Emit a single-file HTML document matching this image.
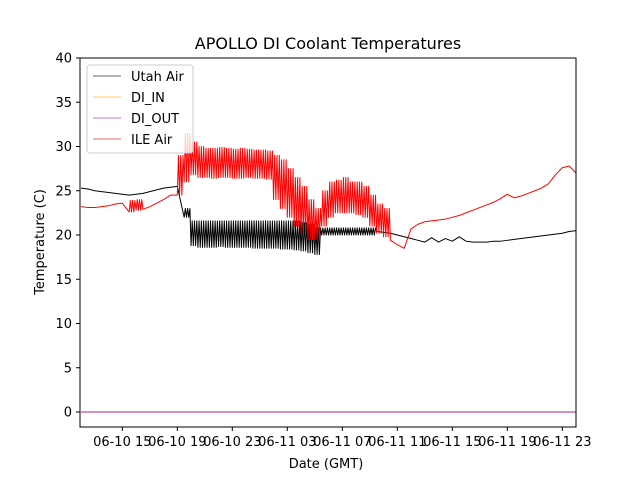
<!DOCTYPE html>
<html><head><meta charset="utf-8"><style>
body{margin:0;background:#fff;}
svg{display:block;font-family:"DejaVu Sans","Liberation Sans",sans-serif;}
</style></head><body>
<svg id="chart" width="640" height="480" viewBox="0 0 640 480">
<rect x="0" y="0" width="640" height="480" fill="#fff"/>
<text x="328" y="49" font-size="16" text-anchor="middle">APOLLO DI Coolant Temperatures</text>
<defs><clipPath id="plotclip"><rect x="80" y="58" width="496" height="369"/></clipPath></defs>
<g id="series" clip-path="url(#plotclip)"></g>
<g id="axes"></g>
<rect x="80" y="58" width="496" height="369" fill="none" stroke="#000" stroke-width="1"/>
<text x="326" y="468" font-size="13" text-anchor="middle">Date (GMT)</text>
<text transform="translate(44,242) rotate(-90)" font-size="13" text-anchor="middle">Temperature (C)</text>
<g>
<rect x="87" y="65" width="106" height="88" rx="3" fill="#fff" fill-opacity="0.8" stroke="#ccc"/>
<line x1="93" y1="76" x2="121" y2="76" stroke="#000" stroke-width="0.7" stroke-opacity="0.8"/>
<text x="131" y="81" font-size="13">Utah Air</text>
<line x1="93" y1="97" x2="121" y2="97" stroke="orange" stroke-width="0.7" stroke-opacity="0.8"/>
<text x="131" y="102" font-size="13">DI_IN</text>
<line x1="93" y1="118" x2="121" y2="118" stroke="#a0209a" stroke-width="0.7" stroke-opacity="0.8"/>
<text x="131" y="123" font-size="13">DI_OUT</text>
<line x1="93" y1="139" x2="121" y2="139" stroke="red" stroke-width="0.7" stroke-opacity="0.8"/>
<text x="131" y="144" font-size="13">ILE Air</text>
</g>
</svg>
<script>
// hours since 06-10 00:00 GMT, sampled every 0.5h
const hourStart = 12, hourStep = 0.5;
const utahLo = [25.3,25.2,25.0,24.9,24.8,24.7,24.6,24.5,24.6,24.7,24.9,25.1,25.3,25.4,25.5,22.0,
18.8,18.6,18.6,18.6,18.7,18.6,18.6,18.6,18.6,18.5,18.5,18.5,18.5,18.4,18.4,18.3,18.2,18.0,17.8,
20.0,20.0,20.0,20.0,20.0,20.0,20.0,20.0,
20.4,20.3,20.2,20.0,19.8,19.6,19.4,19.2,19.7,19.2,19.6,19.3,19.8,19.3,19.2,19.2,19.2,19.3,19.3,19.4,19.5,19.6,19.7,19.8,19.9,20.0,20.1,20.2,20.4,20.5];
const utahHi = [25.3,25.2,25.0,24.9,24.8,24.7,24.6,24.5,24.6,24.7,24.9,25.1,25.3,25.4,25.5,23.0,
21.6,21.6,21.6,21.6,21.6,21.6,21.6,21.6,21.6,21.6,21.6,21.6,21.6,21.6,21.6,21.6,21.4,21.2,20.8,
20.8,20.8,20.8,20.8,20.8,20.8,20.8,20.8,
20.4,20.3,20.2,20.0,19.8,19.6,19.4,19.2,19.7,19.2,19.6,19.3,19.8,19.3,19.2,19.2,19.2,19.3,19.3,19.4,19.5,19.6,19.7,19.8,19.9,20.0,20.1,20.2,20.4,20.5];
const ileLo = [23.2,23.1,23.1,23.2,23.3,23.5,23.6,22.6,22.8,22.9,23.2,23.6,24.0,24.5,24.5,26.0,
26.8,26.5,26.5,26.4,26.5,26.5,26.4,26.4,26.5,26.4,26.4,26.3,24.0,23.0,22.0,21.0,20.2,19.5,19.5,
21.0,22.0,22.5,22.5,22.5,22.3,22.0,21.0,
20.2,19.8,19.4,18.9,18.5,20.7,21.2,21.5,21.6,21.7,21.8,22.0,22.2,22.5,22.8,23.1,23.4,23.7,24.1,24.6,24.2,24.4,24.7,25.0,25.3,25.8,26.8,27.6,27.8,27.0];
const ileHi = [23.2,23.1,23.1,23.2,23.3,23.5,23.6,23.9,24.0,22.9,23.2,23.6,24.0,24.5,29.0,31.5,
30.5,30.0,29.8,29.8,29.9,29.8,29.7,29.8,29.7,29.6,29.6,29.5,29.0,28.5,27.5,26.5,25.5,24.0,23.0,
25.0,26.0,26.2,26.5,26.0,26.0,25.5,24.5,
23.5,23.0,19.4,18.9,18.5,20.7,21.2,21.5,21.6,21.7,21.8,22.0,22.2,22.5,22.8,23.1,23.4,23.7,24.1,24.6,24.2,24.4,24.7,25.0,25.3,25.8,26.8,27.6,27.8,27.0];
const diIn = [0,0];
const diOut = [0,0];
const xTickHours = [15,19,23,27,31,35,39,43,47];
const xTickLabels = ["06-10 15","06-10 19","06-10 23","06-11 03","06-11 07","06-11 11","06-11 15","06-11 19","06-11 23"];
const yTicks = [0,5,10,15,20,25,30,35,40];

const NS = "http://www.w3.org/2000/svg";
function xScale(h){ return 122.3 + (h - 15) * 13.75; }
function yScale(v){ return 412 - v * 8.85; }
const series = document.getElementById('series');
const axes = document.getElementById('axes');

function buildPath(lo, hi){
  const pts = [];
  for (let i = 0; i < lo.length; i++) {
    const t = hourStart + i * hourStep;
    pts.push([xScale(t), yScale(lo[i])]);
    if (hi[i] !== lo[i] && i < lo.length - 1) {
      const n = 6;
      for (let k = 1; k < n; k++) {
        const v = (k % 2 === 1) ? hi[i] : lo[i];
        pts.push([xScale(t + k * hourStep / n), yScale(v)]);
      }
    }
  }
  return 'M' + pts.map(p => p[0].toFixed(2) + ',' + p[1].toFixed(2)).join('L');
}
function addPath(d, color, name, w){
  const p = document.createElementNS(NS, 'path');
  p.setAttribute('d', d);
  p.setAttribute('fill', 'none');
  p.setAttribute('stroke', color);
  p.setAttribute('stroke-width', w);
  p.setAttribute('stroke-linejoin', 'round');
  
  
  series.appendChild(p);
}
addPath(buildPath(utahLo, utahHi), '#000', 'utah-air-line', '1');
addPath(buildPath(ileLo, ileHi), '#ff0000', 'ile-air-line', '1');
const lineHours = [hourStart, hourStart + 37];
addPath('M' + xScale(lineHours[0]) + ',' + yScale(diIn[0]) + 'L' + xScale(lineHours[1]) + ',' + yScale(diIn[1]), 'orange', 'di-in-line', '1');
addPath('M' + xScale(lineHours[0]) + ',' + yScale(diOut[0]) + 'L' + xScale(lineHours[1]) + ',' + yScale(diOut[1]), '#b0208a', 'di-out-line', '1');

xTickHours.forEach((h, i) => {
  const x = xScale(h);
  const l = document.createElementNS(NS, 'line');
  l.setAttribute('x1', x); l.setAttribute('x2', x);
  l.setAttribute('y1', 427); l.setAttribute('y2', 431);
  l.setAttribute('stroke', '#000');
  
  
  axes.appendChild(l);
  const t = document.createElementNS(NS, 'text');
  t.setAttribute('x', x); t.setAttribute('y', 446);
  t.setAttribute('font-size', '13');
  t.setAttribute('text-anchor', 'middle');
  t.textContent = xTickLabels[i];
  
  
  axes.appendChild(t);
});
yTicks.forEach(v => {
  const y = yScale(v);
  const l = document.createElementNS(NS, 'line');
  l.setAttribute('x1', 76); l.setAttribute('x2', 80);
  l.setAttribute('y1', y); l.setAttribute('y2', y);
  l.setAttribute('stroke', '#000');
  
  
  axes.appendChild(l);
  const t = document.createElementNS(NS, 'text');
  t.setAttribute('x', 72); t.setAttribute('y', y + 4.5);
  t.setAttribute('font-size', '13');
  t.setAttribute('text-anchor', 'end');
  t.textContent = String(v);
  
  
  axes.appendChild(t);
});
</script>
</body></html>
